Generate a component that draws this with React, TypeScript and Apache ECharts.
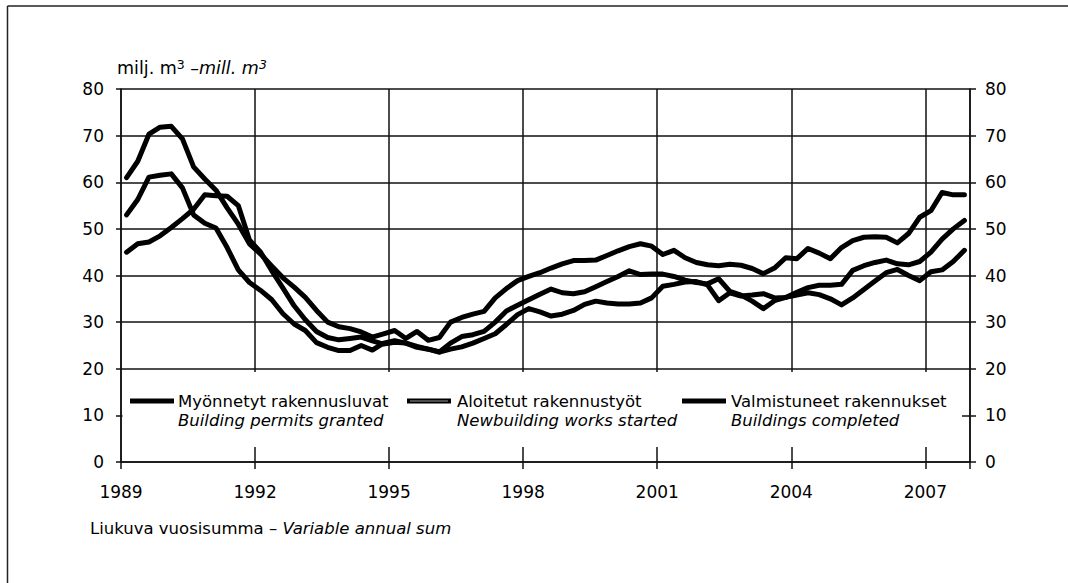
import React, { useEffect, useRef } from "react";
import * as echarts from "echarts";

// Quarterly moving annual sums, million m3
const startYear = 1989;
const endYear = 2007;
const xTickYears = [1989, 1992, 1995, 1998, 2001, 2004, 2007];
const yTicks = [0, 10, 20, 30, 40, 50, 60, 70, 80];

const permitsGranted = [
  61, 64.5, 70.3, 71.8, 72, 69.3, 63.3, 60.7, 58.3, 54.5,
  51, 46.8, 44.6, 42, 39.5, 37.5, 35.3, 32.5, 30, 29,
  28.6, 27.9, 26.8, 27.5, 28.2, 26.5, 28, 26.1, 26.7, 30,
  31, 31.7, 32.3, 35.2, 37.2, 38.9, 39.8, 40.6, 41.6, 42.5,
  43.2, 43.2, 43.3, 44.3, 45.3, 46.2, 46.8, 46.3, 44.5, 45.4,
  43.8, 42.8, 42.3, 42.1, 42.4, 42.2, 41.5, 40.4, 41.6, 43.8,
  43.6, 45.8, 44.8, 43.6, 46, 47.5, 48.2, 48.3, 48.2, 47,
  49, 52.5, 53.9, 57.8, 57.3, 57.3,
];

const worksStarted = [
  53, 56.3, 61.1, 61.5, 61.8, 58.8, 53, 51.2, 50.2, 46,
  41.2, 38.5, 36.8, 34.8, 31.8, 29.6, 28.2, 25.6, 24.6, 23.9,
  23.9, 25, 24, 25.5, 26, 25.5, 24.8, 24.2, 23.6, 25.5,
  26.9, 27.3, 28, 30, 32.4, 33.6, 34.8, 36, 37.1, 36.3,
  36.1, 36.5, 37.6, 38.7, 39.8, 41, 40.2, 40.3, 40.3, 39.8,
  39, 38.5, 38.2, 39.3, 36.6, 35.8, 34.5, 32.9, 34.6, 35.3,
  36.4, 37.4, 37.9, 37.9, 38.1, 41.1, 42.1, 42.8, 43.3, 42.5,
  42.3, 43, 45, 47.8, 50, 51.8,
];

const buildingsCompleted = [
  45, 46.8, 47.2, 48.5, 50.3, 52.2, 54.2, 57.3, 57.1, 57,
  55, 47.6, 45, 41, 37.3, 33.5, 30.5, 28, 26.7, 26.2,
  26.5, 26.8, 26, 25.3, 25.7, 25.5, 24.6, 24.2, 23.6, 24.2,
  24.7, 25.5, 26.5, 27.5, 29.5, 31.6, 32.9, 32.2, 31.3, 31.7,
  32.5, 33.8, 34.5, 34.1, 33.9, 33.9, 34.1, 35.2, 37.7, 38.1,
  38.6, 38.7, 38, 34.6, 36.3, 35.6, 35.8, 36.1, 35.2, 35.3,
  35.8, 36.3, 35.9, 35, 33.7, 35.2, 37, 38.8, 40.6, 41.3,
  40, 38.9, 40.8, 41.2, 43, 45.4,
];

const legendFi = ["Myönnetyt rakennusluvat", "Aloitetut rakennustyöt", "Valmistuneet rakennukset"];
const legendEn = ["Building permits granted", "Newbuilding works started", "Buildings completed"];

// time coordinate of each quarter (mid-quarter)
const quarterX: number[] = [];
for (let y = startYear; y <= endYear; y++) {
  for (let q = 1; q <= 4; q++) quarterX.push(y + (q - 0.5) / 4);
}

const FONT = "DejaVu Sans";
const INK = "#000";

function pairs(vals: number[]) {
  return vals.map((v, i) => [quarterX[i], v]);
}

export default function App() {
  const ref = useRef<HTMLDivElement>(null);
  useEffect(() => {
    if (!ref.current) return;
    const chart = echarts.init(ref.current, undefined, { renderer: "svg" });
    const lineStyle = { color: "#000", width: 5, cap: "round", join: "round" };
    const legendX = [130, 407, 682];
    const textX = [178, 457, 731];
    const graphics: any[] = [
      // outer frame (top and left)
      { type: "line", z: 5, shape: { x1: 7.5, y1: 6, x2: 1068, y2: 6 }, style: { stroke: "#222", lineWidth: 1.5 } },
      { type: "line", z: 5, shape: { x1: 7.5, y1: 6, x2: 7.5, y2: 583 }, style: { stroke: "#222", lineWidth: 1.5 } },
      // legend background
      { type: "rect", z: 1, shape: { x: 122.5, y: 372, width: 839.5, height: 75 }, style: { fill: "#fff" } },
      // title
      {
        type: "text", z: 5, x: 117, y: 68,
        style: {
          text: "{a|milj. m}{s|3}{a| –}{i|mill. m}{si|3}",
          verticalAlign: "middle",
          fill: INK,
          rich: {
            a: { fontSize: 17.5, fontFamily: FONT, fill: INK, lineHeight: 21 },
            i: { fontSize: 17.5, fontFamily: FONT, fontStyle: "italic", fill: INK, lineHeight: 21 },
            s: { fontSize: 12.5, fontFamily: FONT, fill: INK, verticalAlign: "top", lineHeight: 21 },
            si: { fontSize: 12.5, fontFamily: FONT, fontStyle: "italic", fill: INK, verticalAlign: "top", lineHeight: 21 },
          },
        },
      },
      // footnote
      {
        type: "text", z: 5, x: 90, y: 528,
        style: {
          text: "{a|Liukuva vuosisumma – }{i|Variable annual sum}",
          verticalAlign: "middle",
          rich: {
            a: { fontSize: 16.5, fontFamily: FONT, fill: INK },
            i: { fontSize: 16.5, fontFamily: FONT, fontStyle: "italic", fill: INK },
          },
        },
      },
    ];
    legendFi.forEach((name, k) => {
      graphics.push({
        type: "line", z: 3,
        shape: { x1: legendX[k], y1: 401, x2: legendX[k] + 44, y2: 401 },
        style: { stroke: "#000", lineWidth: 5 },
      });
      if (k === 1) {
        graphics.push({
          type: "line", z: 4,
          shape: { x1: legendX[k] + 3, y1: 401, x2: legendX[k] + 41, y2: 401 },
          style: { stroke: "#999", lineWidth: 1 },
        });
      }
      graphics.push({
        type: "text", z: 3, x: textX[k], y: 401,
        style: { text: name, fontSize: 16.5, fontFamily: FONT, fill: INK, verticalAlign: "middle" },
      });
      graphics.push({
        type: "text", z: 3, x: textX[k], y: 420,
        style: { text: legendEn[k], fontSize: 16.5, fontFamily: FONT, fontStyle: "italic", fill: INK, verticalAlign: "middle" },
      });
    });

    const axisLabelStyle = { color: INK, fontSize: 17, fontFamily: FONT };
    chart.setOption({
      animation: false,
      backgroundColor: "#fff",
      grid: { left: 121, right: 98, top: 89, bottom: 121 },
      xAxis: {
        type: "value",
        min: startYear,
        max: endYear + 1,
        interval: 3,
        axisLine: { lineStyle: { color: "#111", width: 1.5 } },
        axisTick: { length: 7, lineStyle: { color: "#111", width: 1.5 } },
        axisLabel: {
          ...axisLabelStyle,
          margin: 21,
          formatter: (v: number) => (xTickYears.includes(v) ? String(v) : ""),
        },
        splitLine: { show: true, lineStyle: { color: "#111", width: 1.5 } },
      },
      yAxis: [
        {
          type: "value", min: yTicks[0], max: yTicks[yTicks.length - 1], interval: 10, position: "left",
          axisLine: { show: true, lineStyle: { color: "#111", width: 1.5 } },
          axisTick: { show: true, length: 5, lineStyle: { color: "#111", width: 1.5 } },
          axisLabel: { ...axisLabelStyle, margin: 17 },
          splitLine: { show: true, lineStyle: { color: "#111", width: 1.5 } },
        },
        {
          type: "value", min: yTicks[0], max: yTicks[yTicks.length - 1], interval: 10, position: "right",
          axisLine: { show: true, lineStyle: { color: "#111", width: 1.5 } },
          axisTick: { show: true, length: 6, lineStyle: { color: "#111", width: 1.5 } },
          axisLabel: { ...axisLabelStyle, margin: 15 },
          splitLine: { show: false },
        },
      ],
      graphic: graphics,
      series: [
        { name: legendFi[2], type: "line", data: pairs(buildingsCompleted), showSymbol: false, lineStyle, z: 2 },
        { name: legendFi[1], type: "line", data: pairs(worksStarted), showSymbol: false, lineStyle, z: 2 },
        { name: legendFi[0], type: "line", data: pairs(permitsGranted), showSymbol: false, lineStyle, z: 2 },
      ],
    });
    return () => chart.dispose();
  }, []);
  return (
    <div
      ref={ref}
      style={{ position: "fixed", left: 0, top: 0, width: 1068, height: 583, background: "#fff" }}
    />
  );
}
